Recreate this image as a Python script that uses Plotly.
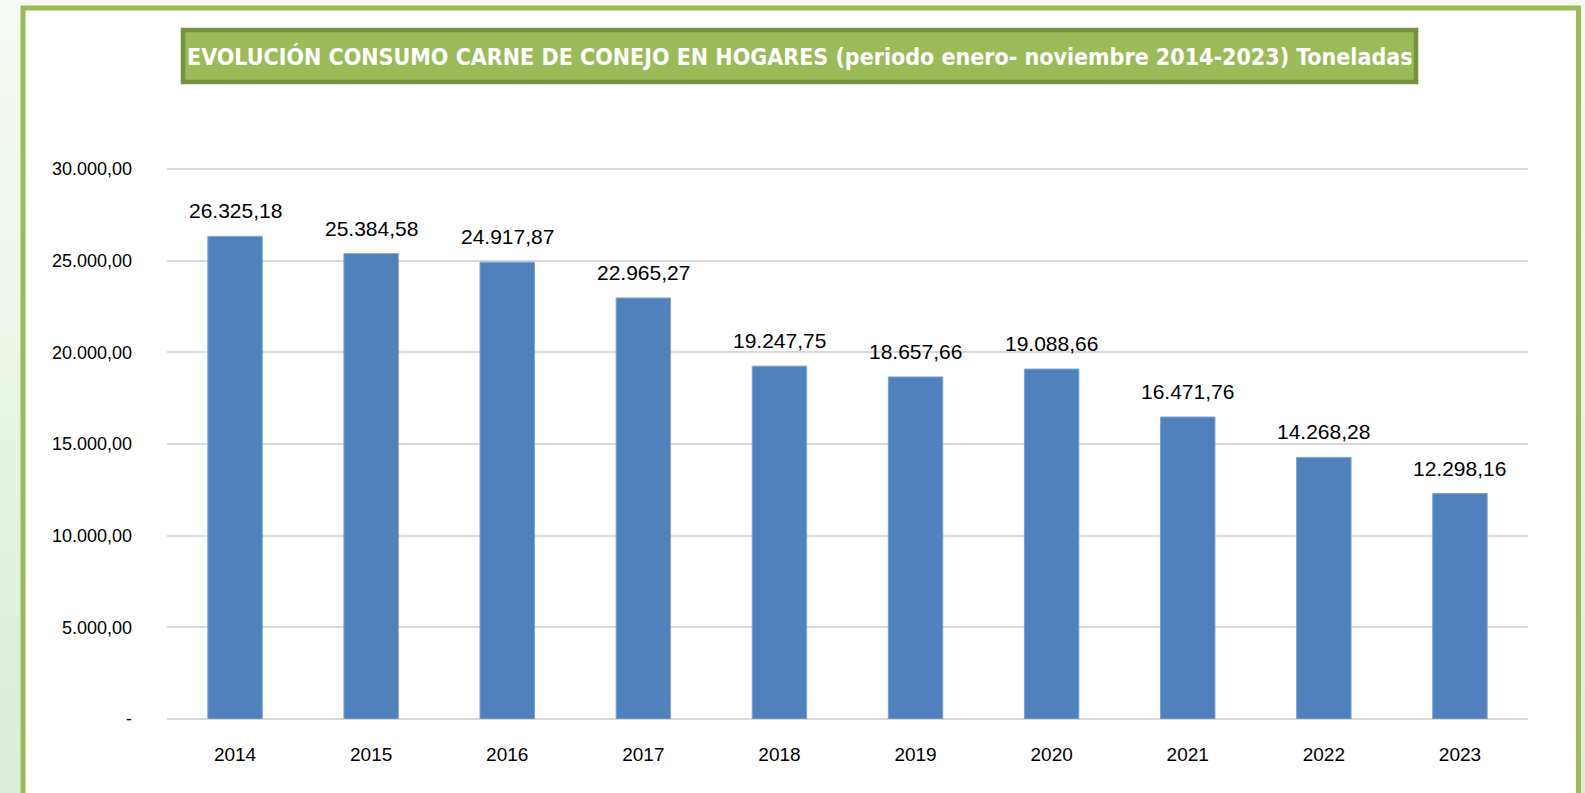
import plotly.graph_objects as go

years = ["2014", "2015", "2016", "2017", "2018", "2019", "2020", "2021", "2022", "2023"]
tonnes = [26325.18, 25384.58, 24917.87, 22965.27, 19247.75, 18657.66, 19088.66, 16471.76, 14268.28, 12298.16]
ytick_vals = [0, 5000, 10000, 15000, 20000, 25000, 30000]
ytick_text = ["-", "5.000,00", "10.000,00", "15.000,00", "20.000,00", "25.000,00", "30.000,00"]
title_text = "EVOLUCIÓN CONSUMO CARNE DE CONEJO EN HOGARES (periodo enero- noviembre 2014-2023) Toneladas"

W, H = 1585, 793
L, R, T, B = 167, 1528, 167, 719

def px(x):
    return (x - L) / (R - L)

def py(y):
    return (B - y) / (B - T)

def es_num(v):
    return f"{v:,.2f}".replace(",", "X").replace(".", ",").replace("X", ".")

fig = go.Figure()
fig.add_trace(go.Bar(
    x=years, y=tonnes,
    marker=dict(color="#4f81bd", line=dict(color="#7fa3d1", width=1)),
    width=0.4,
    hoverinfo="x+y",
))

# category axis: annotations positioned by category index
for i, v in enumerate(tonnes):
    fig.add_annotation(
        x=i, y=v, xref="x", yref="y",
        text=es_num(v),
        showarrow=False, yanchor="bottom", yshift=12,
        font=dict(family="Liberation Sans", size=21, color="#000000"),
    )

shapes = []
# background gradient
n = 40
top_c = (246, 250, 244)
bot_c = (218, 238, 216)
for i in range(n):
    f = i / (n - 1)
    c = tuple(int(round(top_c[k] + (bot_c[k] - top_c[k]) * f)) for k in range(3))
    y0 = i * H / n
    y1 = (i + 1) * H / n + 1
    shapes.append(dict(type="rect", xref="paper", yref="paper", layer="below",
                       x0=px(-5), x1=px(W + 5), y0=py(y1), y1=py(y0),
                       fillcolor=f"rgb{c}", line=dict(width=0)))
# white frame with green border
shapes.append(dict(type="rect", xref="paper", yref="paper", layer="below",
                   x0=px(23), x1=px(1578.5), y0=py(820), y1=py(8),
                   fillcolor="#ffffff", line=dict(color="#9bbb59", width=5)))
# title box
shapes.append(dict(type="rect", xref="paper", yref="paper", layer="above",
                   x0=px(183), x1=px(1416), y0=py(82), y1=py(30),
                   fillcolor="#9bbb59", line=dict(color="#76923c", width=4.5)))

fig.add_annotation(
    x=px(799.5), y=py(56), xref="paper", yref="paper",
    text=f"<b>{title_text}</b>", showarrow=False,
    xanchor="center", yanchor="middle",
    font=dict(family="DejaVu Sans Condensed, Roboto Condensed, Liberation Sans Narrow, Roboto", size=23, color="#ffffff"),
)

fig.update_layout(
    width=W, height=H, autosize=False,
    margin=dict(l=L, r=W - R, t=T, b=H - B, pad=0),
    paper_bgcolor="#eef6ec",
    plot_bgcolor="rgba(0,0,0,0)",
    shapes=shapes,
    showlegend=False,
    separators=",.",
    bargap=0.6,
    xaxis=dict(
        type="category",
        showgrid=False, showline=False, zeroline=False, ticks="",
        tickfont=dict(family="Liberation Sans", size=19, color="#000000"),
        ticklabelstandoff=22,
    ),
    yaxis=dict(
        range=[0, 30110], tickvals=ytick_vals, ticktext=ytick_text,
        showgrid=True, gridcolor="#d9d9d9", gridwidth=1.5,
        zeroline=True, zerolinecolor="#d9d9d9", zerolinewidth=2,
        showline=False, ticks="",
        tickfont=dict(family="Liberation Sans", size=18, color="#000000"),
        ticklabelstandoff=34,
    ),
)

fig.write_html("out.html", config={"displayModeBar": False},
               post_script="document.body.style.margin='0';document.body.style.overflow='hidden';")
